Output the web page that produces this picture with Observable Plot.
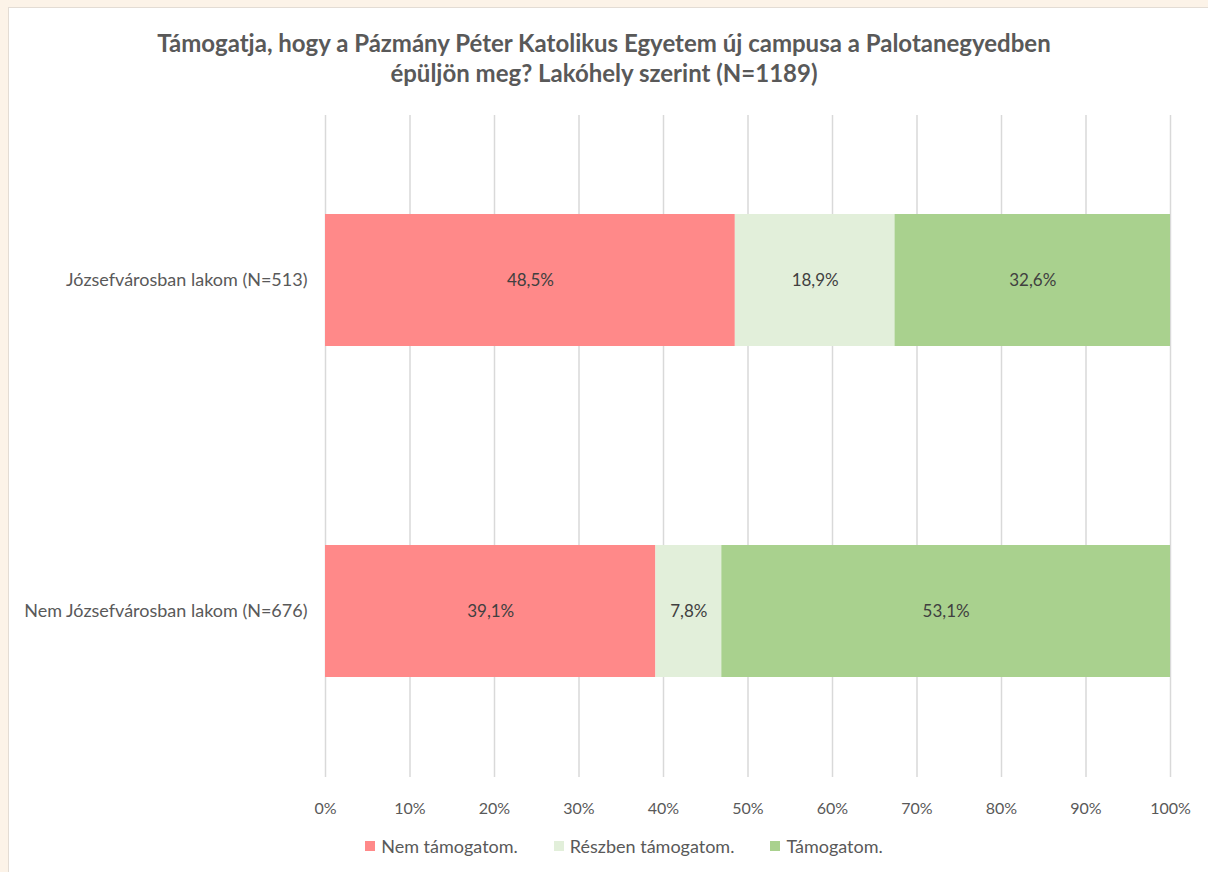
<!DOCTYPE html>
<html>
<head>
<meta charset="utf-8">
<script src="https://cdn.jsdelivr.net/npm/d3@7"></script>
<script src="https://cdn.jsdelivr.net/npm/@observablehq/plot@0.6"></script>
<style>
  html, body { margin: 0; padding: 0; width: 1208px; height: 872px; overflow: hidden; background: #fcf3e8; font-family: Lato, "Open Sans", sans-serif; }
  #panel { position: absolute; left: 8px; top: 7px; width: 1210px; height: 880px; background: #fff; border: 1px solid #e3dcd4; }
  #title { position: absolute; left: 0; top: 28px; width: 1208px; text-align: center; font-weight: bold; font-size: 24px; line-height: 30px; color: #595959; }
  #chart { position: absolute; left: 0; top: 100px; }
  #legend { position: absolute; left: 20px; top: 835px; width: 1208px; display: flex; justify-content: center; font-size: 18px; color: #595959; }
  .item { display: flex; align-items: center; margin: 0 18px; }
  .sw { width: 10px; height: 10px; margin-right: 6px; }
</style>
</head>
<body>
<div id="panel"></div>
<div id="title">Támogatja, hogy a Pázmány Péter Katolikus Egyetem új campusa a Palotanegyedben<br>épüljön meg? Lakóhely szerint (N=1189)</div>
<div id="chart"></div>
<div id="legend"></div>
<script>
const categories = ["Józsefvárosban lakom (N=513)", "Nem Józsefvárosban lakom (N=676)"];
const responses = ["Nem támogatom.", "Részben támogatom.", "Támogatom."];
const colors = ["#ff8989", "#e2efda", "#a9d18e"];
const valuesJozsefvaros = [48.5, 18.9, 32.6];
const valuesNemJozsefvaros = [39.1, 7.8, 53.1];
const xTicks = [0, 10, 20, 30, 40, 50, 60, 70, 80, 90, 100];

const seriesValues = [valuesJozsefvaros, valuesNemJozsefvaros];
const data = [];
categories.forEach((c, i) => responses.forEach((r, j) => data.push({cat: c, resp: r, value: seriesValues[i][j]})));

const fmt = v => v.toFixed(1).replace(".", ",") + "%";

const chart = Plot.plot({
  width: 1208,
  height: 720,
  marginLeft: 325,
  marginRight: 38,
  marginTop: 15,
  marginBottom: 43,
  style: {fontFamily: "Lato, 'Open Sans', sans-serif", fontSize: "16px", color: "#595959", background: "transparent"},
  x: {domain: [0, 100], ticks: xTicks, tickFormat: d => d + "%", label: null, tickSize: 0, tickPadding: 25},
  y: {domain: categories, label: null, paddingInner: 0.6, paddingOuter: 0.297, tickSize: 0, tickPadding: 18},
  color: {domain: responses, range: colors},
  marks: [
    Plot.gridX(xTicks, {stroke: "#d9d9d9", strokeOpacity: 1, strokeWidth: 1.5}),
    Plot.barX(data, Plot.stackX({x: "value", y: "cat", fill: "resp", z: "resp"})),
    Plot.text(data, Plot.stackX({x: "value", y: "cat", z: "resp", text: d => fmt(d.value), fill: "#404040", fontSize: 17})),
    Plot.axisX({ticks: xTicks, tickFormat: d => d + "%", tickSize: 0, tickPadding: 25, label: null, fill: "#595959", fontSize: 16}),
    Plot.axisY({tickSize: 0, tickPadding: 18, label: null, fill: "#595959", fontSize: 18})
  ]
});
document.getElementById("chart").appendChild(chart);

const legend = document.getElementById("legend");
responses.forEach((r, i) => {
  const item = document.createElement("div");
  item.className = "item";
  const sw = document.createElement("span");
  sw.className = "sw";
  sw.style.background = colors[i];
  const t = document.createElement("span");
  t.textContent = r;
  item.appendChild(sw); item.appendChild(t);
  legend.appendChild(item);
});
</script>
</body>
</html>
